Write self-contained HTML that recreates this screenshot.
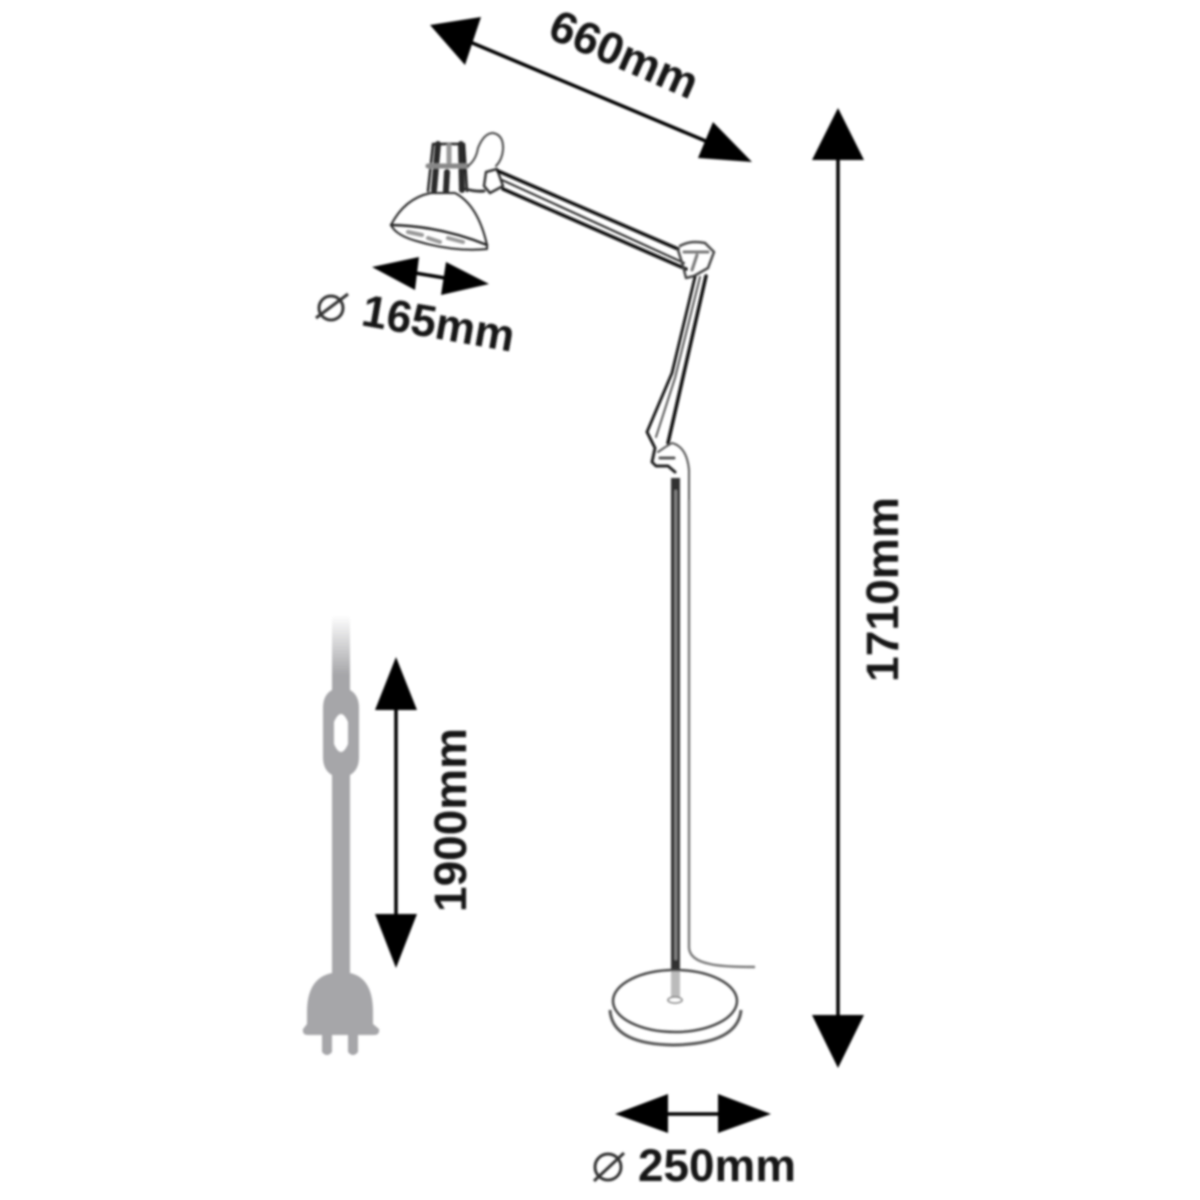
<!DOCTYPE html>
<html>
<head>
<meta charset="utf-8">
<style>
html,body{margin:0;padding:0;background:#fff;width:1200px;height:1200px;overflow:hidden}
svg{display:block}
text{font-family:"Liberation Sans",sans-serif;font-weight:bold;font-size:45px;fill:#161616}
</style>
</head>
<body>
<svg width="1200" height="1200" viewBox="0 0 1200 1200" xmlns="http://www.w3.org/2000/svg">
<defs>
<filter id="b" x="-5%" y="-5%" width="110%" height="110%"><feGaussianBlur stdDeviation="1.1"/></filter>
<linearGradient id="g" x1="0" y1="0" x2="0" y2="1"><stop offset="0" stop-color="#fff"/><stop offset="0.75" stop-color="#a6a6a9"/><stop offset="1" stop-color="#a6a6a9"/></linearGradient>
</defs>
<g filter="url(#b)">
<!-- Plug and cord -->
<rect x="332" y="615" width="18" height="80" fill="url(#g)"/>
<path fill-rule="evenodd" fill="#a6a6a9" d="M332 690H350Q359 695 359 708V757Q359 770 350 775V973Q373 978 373 1012V1024L379 1029Q380 1035 374 1035H358V1052Q353 1058 348 1052V1035H332V1052Q327 1058 322 1052V1035H308Q302 1035 303 1029L307 1024V1012Q307 978 332 973V775Q323 770 323 757V708Q323 695 332 690ZM334 722V744Q341 760 348 744V722Q341 706 334 722Z"/>
<!-- Dimension arrows -->
<g fill="#000" stroke="none">
<path d="M430 25L481 17L465 65ZM752 162L713 122L698 158Z"/>
<path d="M838 108L864 160H812ZM838 1068L864 1015H812Z"/>
<path d="M396 657L417 710H375ZM396 968L417 914H375Z"/>
<path d="M372 267L419 257L415 290ZM489 284L446 262L441 295Z"/>
<path d="M615 1114L668 1094V1133ZM771 1114L718 1094V1133Z"/>
</g>
<g stroke="#000" stroke-width="3.5" fill="none">
<path d="M470 42L708 142"/>
<path d="M838 155V1020"/>
<path d="M396 705V920"/>
<path d="M415 273L445 278"/>
<path d="M666 1114H720"/>
</g>
<!-- Lamp head -->
<g fill="none" stroke="#222" stroke-linecap="round" stroke-linejoin="round">
<path d="M391 225Q405 198 431 193H455Q478 205 487 245" stroke-width="2"/>
<path d="M391 225Q440 226 487 245" stroke-width="2.5"/>
<path d="M391 225Q396 236 420 242Q455 252 487 249L487 245" stroke-width="2"/>
<path d="M408 232l14 3M428 238l12 4M448 238l15 4" stroke="#999" stroke-width="4"/>
<path d="M428 191L433 144H464L467 191" stroke-width="2.5"/>
<path d="M438 144L434 190M461 144L462 190" stroke-width="6" stroke="#2a2a2a"/>
<path d="M447 172L446 191" stroke-width="6" stroke="#2a2a2a"/>
<path d="M449 146V162" stroke-width="5" stroke="#999"/>
<path d="M428 166H467" stroke="#888" stroke-width="5"/>
<path d="M468 166Q476 160 478 148Q484 133 493 133Q504 135 503 150Q502 160 496 166" stroke="#444" stroke-width="2"/>
<path d="M466 189Q476 192 484 191" stroke-width="3" stroke="#333"/>
<path d="M486 172L497 169L503 186L490 193L484 186Z" stroke-width="2.5" stroke="#333"/>
<!-- Upper arm -->
<path d="M498 171L678 249" stroke="#111" stroke-width="3.5"/>
<path d="M502 180L684 263" stroke="#222" stroke-width="2"/>
<path d="M503 189L686 269" stroke="#111" stroke-width="3.5"/>
<!-- Elbow joint -->
<path d="M680 246Q690 240 705 243L714 252L708 268L694 276L686 278L683 266L678 250" stroke-width="2.5" stroke="#444"/>
<path d="M684 252L708 252M697 255L692 270" stroke="#777" stroke-width="3"/>
<!-- Lower arm -->
<path d="M695 277L672 373L647 432L655 448" stroke="#111" stroke-width="2.8"/>
<path d="M700 277L675 378L656 437" stroke="#555" stroke-width="2"/>
<path d="M706 276L668 443" stroke="#111" stroke-width="3.5"/>
<!-- Post joint and elbow -->
<path d="M655 448L652 462L656 466H668L675 472" stroke-width="3"/>
<path d="M658 452Q665 447 672 443Q687 447 689 470V500" stroke="#555" stroke-width="2"/>
<path d="M660 458H674" stroke="#555" stroke-width="3"/>
</g>
<!-- Pole -->
<rect x="671" y="478" width="9" height="492" fill="#333"/>
<rect x="674.5" y="490" width="2.5" height="470" fill="#888"/>
<path d="M689 500V948Q690 960 710 964Q722 967 755 967" fill="none" stroke="#777" stroke-width="2.4"/>
<rect x="671" y="970" width="9" height="30" fill="#bbb"/>
<!-- Base -->
<ellipse cx="675" cy="1001" rx="62" ry="31" fill="none" stroke="#444" stroke-width="2.5"/>
<path d="M610 1010Q612 1044 673 1045Q738 1044 741 1010" fill="none" stroke="#555" stroke-width="3"/>
<ellipse cx="675" cy="1000" rx="7" ry="3" fill="#fff" stroke="#777" stroke-width="1.5"/>
<!-- Labels -->
<text transform="translate(546 37) rotate(23.5)" textLength="157" lengthAdjust="spacingAndGlyphs">660mm</text>
<text transform="translate(360 325) rotate(10)" textLength="154" lengthAdjust="spacingAndGlyphs">165mm</text>
<text x="638" y="1181" textLength="158" lengthAdjust="spacingAndGlyphs">250mm</text>
<text transform="translate(898 682) rotate(-90)" textLength="185" lengthAdjust="spacingAndGlyphs">1710mm</text>
<text transform="translate(466 912) rotate(-90)" textLength="184" lengthAdjust="spacingAndGlyphs">1900mm</text>
<!-- Diameter symbols -->
<g fill="none" stroke="#333" stroke-width="3">
<circle cx="331" cy="308" r="12"/><path d="M316 318L348 294"/>
<circle cx="608" cy="1167" r="13"/><path d="M594 1181L624 1153"/>
</g>
</g>
</svg>
</body>
</html>
